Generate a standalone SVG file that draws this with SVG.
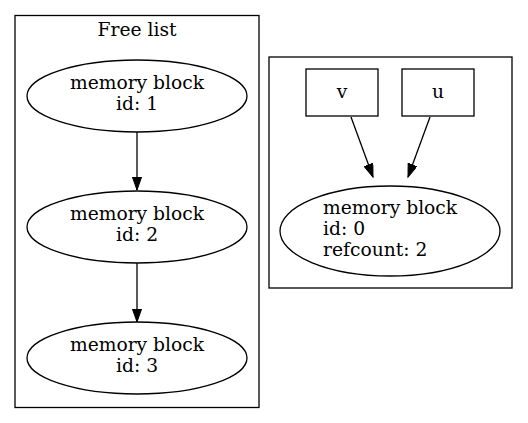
<svg xmlns="http://www.w3.org/2000/svg" width="528" height="423" viewBox="0 0 528 423">
<defs>
<marker id="ah" markerWidth="14" markerHeight="10" refX="13.3" refY="4.7" orient="auto" markerUnits="userSpaceOnUse">
<path d="M0,0 L13.3,4.7 L0,9.4 Z" fill="#000" stroke="#000" stroke-width="1"/>
</marker>
</defs>
<style>
text{font-family:"DejaVu Serif","Liberation Serif",serif;font-size:18.7px;fill:#000}
.c{text-anchor:middle}
.shape{fill:#fff;stroke:#000;stroke-width:1.3}
.edge{stroke:#000;stroke-width:1.3;fill:none;marker-end:url(#ah)}
</style>
<rect width="528" height="423" fill="#fff"/>
<g id="cluster_free">
<rect x="15" y="15.5" width="244" height="392" class="shape"/>
<text x="137" y="36" class="c">Free list</text>
</g>
<g id="cluster_used">
<rect x="269" y="57" width="243" height="231" class="shape"/>
</g>
<g id="connectors">
<line x1="137" y1="132" x2="137" y2="190" class="edge"/>
<line x1="137" y1="263" x2="137" y2="322" class="edge"/>
<line x1="351" y1="117" x2="373" y2="177" class="edge"/>
<line x1="430" y1="117" x2="408" y2="177" class="edge"/>
</g>
<g id="block1">
<ellipse cx="137" cy="96" rx="110" ry="36" class="shape"/>
<text x="137" y="89" class="c">memory block</text>
<text x="137" y="110" class="c">id: 1</text>
</g>
<g id="block2">
<ellipse cx="137" cy="227" rx="110" ry="36" class="shape"/>
<text x="137" y="220" class="c">memory block</text>
<text x="137" y="241" class="c">id: 2</text>
</g>
<g id="block3">
<ellipse cx="137" cy="358" rx="110" ry="36" class="shape"/>
<text x="137" y="351" class="c">memory block</text>
<text x="137" y="372" class="c">id: 3</text>
</g>
<g id="v">
<rect x="306" y="69" width="72" height="47" class="shape"/>
<text x="342" y="98" class="c">v</text>
</g>
<g id="u">
<rect x="402" y="69" width="72" height="47" class="shape"/>
<text x="438" y="98" class="c">u</text>
</g>
<g id="block0">
<ellipse cx="390" cy="231" rx="110" ry="45" class="shape"/>
<text x="323" y="214">memory block</text>
<text x="323" y="235">id: 0</text>
<text x="323" y="256">refcount: 2</text>
</g>
</svg>
